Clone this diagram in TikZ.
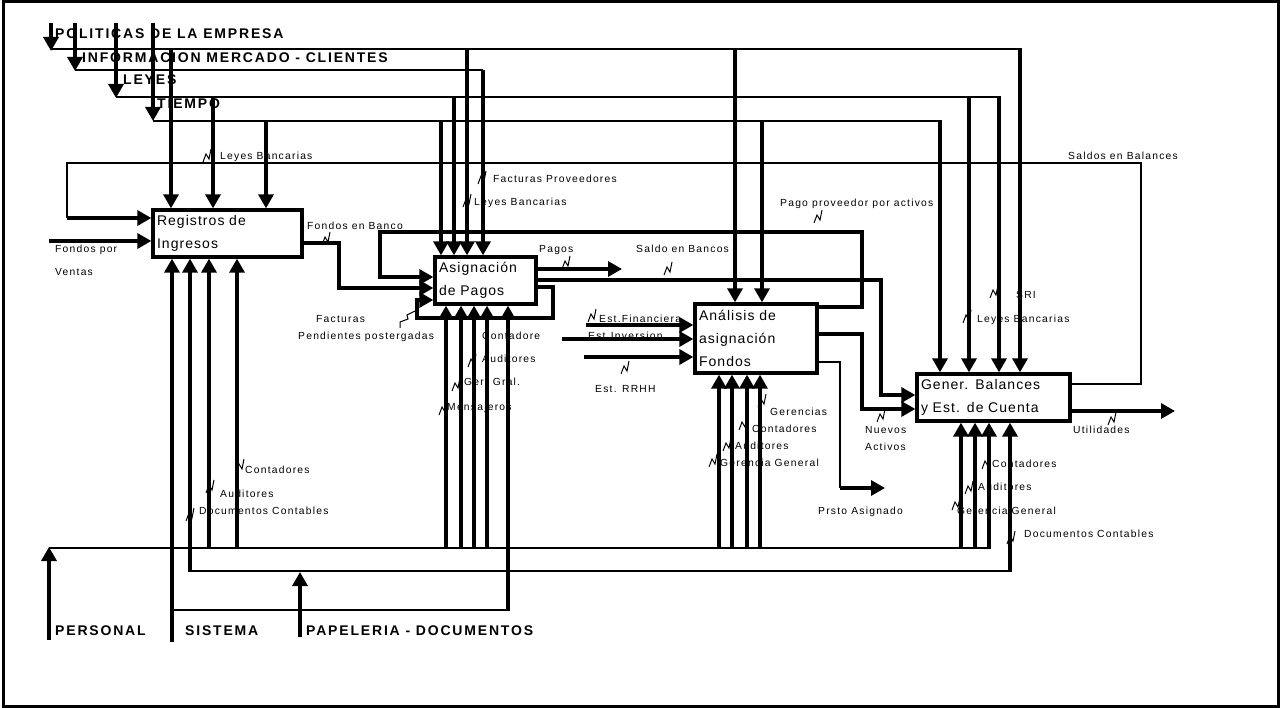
\documentclass[tikz,border=0pt]{standalone}
\usepackage{fontspec}
\setmainfont{Liberation Sans}
\newfontfamily\boxf[LetterSpace=7.5]{Liberation Sans}
\newfontfamily\lblf[LetterSpace=12]{Liberation Sans}
\newfontfamily\ttlf[LetterSpace=13]{Liberation Sans}
\usetikzlibrary{arrows.meta,calc}
\begin{document}
\begin{tikzpicture}[x=1pt,y=-1pt,
  thk/.style={line width=3.3pt},
  thn/.style={line width=1.5pt},
  arr/.style={-{Triangle[length=14pt,width=15pt]}},
  box/.style={draw,line width=3.3pt,inner xsep=3pt,inner ysep=0pt,align=left,
    font=\boxf\fontsize{14}{23}\selectfont},
  lbl/.style={font=\lblf\fontsize{10.3}{12}\selectfont,anchor=base west,inner sep=0pt},
  ttl/.style={font=\ttlf\bfseries\fontsize{14}{16}\selectfont,anchor=base west,inner sep=0pt},
  sq/.pic={\draw[line width=1pt] (-4,7) -- (-1,-1) -- (2,4) -- (4,-6);}
]
\useasboundingbox (0,0) rectangle (1284,708);
\draw[line width=3pt] (3,1.5) rectangle (1278,706);

% boxes
\node[box,minimum width=149pt,minimum height=47pt,text width=141pt] (reg) at (227.5,233.5) {Registros de\\Ingresos};
\node[box,minimum width=101pt,minimum height=47pt,text width=93pt] (asg) at (485.5,280.5) {Asignación\\de Pagos};
\node[box,minimum width=122pt,minimum height=69pt,text width=114pt] (ana) at (756,338.5) {Análisis de\\asignación\\Fondos};
\node[box,minimum width=153pt,minimum height=47pt,text width=145pt] (gen) at (993.5,397.5) {Gener. Balances\\y Est. de Cuenta};

% titles
\node[ttl] (tpol) at (55,39) {POLITICAS DE LA EMPRESA};
\node[ttl] (tinf) at (82,63) {INFORMACION MERCADO - CLIENTES};
\node[ttl] (tley) at (123,85) {LEYES};
\node[ttl] (ttie) at (157,109) {TIEMPO};
\node[ttl] (tper) at (55,635) {PERSONAL};
\node[ttl] (tsis) at (185,635) {SISTEMA};
\node[ttl] (tpap) at (306,635) {PAPELERIA - DOCUMENTOS};

% controls
\coordinate (polS) at (51,23); \coordinate (polE) at (51,51);
\coordinate (infS) at (75,23); \coordinate (infE) at (75,71);
\coordinate (leyS) at (116,23); \coordinate (leyE) at (116,98);
\coordinate (tieS) at (153,23); \coordinate (tieE) at (153,121);
\draw[thk,arr] (polS) -- (polE);
\draw[thk,arr] (infS) -- (infE);
\draw[thk,arr] (leyS) -- (leyE);
\draw[thk,arr] (tieS) -- (tieE);
\coordinate (polA) at (51,49);  \coordinate (polB) at (1020,49);
\coordinate (infA) at (75,70);  \coordinate (infB) at (483,70);
\coordinate (leyA) at (116,97); \coordinate (leyB) at (999,97);
\coordinate (tieA) at (153,121); \coordinate (tieB) at (940,121);
\draw[thn] (polA) -- (polB);
\draw[thn] (infA) -- (infB);
\draw[thn] (leyA) -- (leyB);
\draw[thn] (tieA) -- (tieB);
\foreach \x/\b in {171/reg,467/asg,735/ana,1020/gen}
  \draw[thk,arr] (\x,48.5) -- (\x,49 |- \b.north);
\draw[thk,arr] (infB) -- (infB |- asg.north);
\foreach \x/\b in {213/reg,454/asg,969/gen,999/gen}
  \draw[thk,arr] (\x,96.5) -- (\x,97 |- \b.north);
\foreach \x/\b in {266/reg,441/asg,762/ana,940/gen}
  \draw[thk,arr] (\x,120.5) -- (\x,121 |- \b.north);

% feedback Saldos en Balances
\draw[thn] (gen.east |- 0,384) -- (1141,384) -- (1141,163) -- (67,163) -- (67,218);
\draw[thk,arr] (67,218) -- (reg.west |- 0,218);

% inputs / outputs
\draw[thk,arr] (49,241) -- (reg.west |- 0,241);
\draw[thk,arr] (reg.east |- 0,243) -- (339,243) -- (339,288) -- (asg.west |- 0,288);
\draw[thk,arr] (ana.east |- 0,307) -- (862,307) -- (862,232) -- (380,232) -- (380,277) -- (asg.west |- 0,277);
\draw[thk,arr] (asg.east |- 0,287) -- (553,287) -- (553,318) -- (417,318) -- (417,300) -- (asg.west |- 0,300);
\draw[thk,arr] (asg.east |- 0,269) -- (622,269);
\draw[thk,arr] (asg.east |- 0,280) -- (881,280) -- (881,395) -- (gen.west |- 0,395);
\draw[thk,arr] (ana.east |- 0,334) -- (862,334) -- (862,409) -- (gen.west |- 0,409);
\draw[thn] (ana.east |- 0,362) -- (840,362) -- (840,488);
\draw[thk,arr] (839.5,488) -- (885,488);
\draw[thk,arr] (586,325) -- (ana.west |- 0,325);
\draw[thk,arr] (562,339) -- (ana.west |- 0,339);
\draw[thk,arr] (584,357) -- (ana.west |- 0,357);
\draw[thk,arr] (gen.east |- 0,411) -- (1175,411);

% mechanisms
\coordinate (perS) at (49,640); \coordinate (perE) at (49,547);
\draw[thk,arr] (perS) -- (perE);
\coordinate (perA) at (49,548); \coordinate (perB) at (989,548);
\draw[thn] (perA) -- (perB);
\foreach \x/\b in {209/reg,237/reg,446/asg,461/asg,474/asg,487/asg,719/ana,732/ana,747/ana,760/ana,961/gen,975/gen,989/gen}
  \draw[thk,arr] (\x,548.5) -- (\x,548 |- \b.south);
\coordinate (sisS) at (172,642);
\draw[thk,arr] (sisS) -- (sisS |- reg.south);
\coordinate (sisA) at (172,610); \coordinate (sisB) at (508,610);
\draw[thn] (sisA) -- (sisB);
\draw[thk,arr] (508,610.5) -- (sisB |- asg.south);
\coordinate (papS) at (300,637); \coordinate (papE) at (300,572);
\draw[thk,arr] (papS) -- (papE);
\coordinate (papA) at (190,571); \coordinate (papB) at (1010,571);
\draw[thn] (papA) -- (papB);
\draw[thk,arr] (190,571.5) -- (papA |- reg.south);
\draw[thk,arr] (1010,571.5) -- (papB |- gen.south);

% labels
\node[lbl] at (220,159.6) {Leyes Bancarias};
\node[lbl] at (1068,159.6) {Saldos en Balances};
\node[lbl] at (493,182.6) {Facturas Proveedores};
\node[lbl] at (474,205.6) {Leyes Bancarias};
\node[lbl] at (780,206.6) {Pago proveedor por activos};
\node[lbl] at (307,229.6) {Fondos en Banco};
\node[lbl] at (55,252.6) {Fondos por};
\node[lbl] at (55,275.6) {Ventas};
\node[lbl] at (539,252.6) {Pagos};
\node[lbl] at (636,252.6) {Saldo en Bancos};
\node[lbl] at (1016,298.6) {SRI};
\node[lbl] at (977,322.6) {Leyes Bancarias};
\node[lbl] at (316,322.6) {Facturas};
\node[lbl] at (298,339.6) {Pendientes postergadas};
\node[lbl] at (482,339.6) {Contadore};
\node[lbl] at (599,322.6) {Est.Financiera};
\node[lbl] at (588,339.6) {Est.Inversion};
\node[lbl] at (482,362.6) {Auditores};
\node[lbl] at (464,385.6) {Ger. Gral.};
\node[lbl] at (447,410.6) {Mensajeros};
\node[lbl] at (595,392.6) {Est. RRHH};
\node[lbl] at (770,415.6) {Gerencias};
\node[lbl] at (752,432.6) {Contadores};
\node[lbl] at (735,449.6) {Auditores};
\node[lbl] at (720,466.6) {Gerencia General};
\node[lbl] at (865,433.6) {Nuevos};
\node[lbl] at (865,450.6) {Activos};
\node[lbl] at (1073,433.6) {Utilidades};
\node[lbl] at (245,473.6) {Contadores};
\node[lbl] at (220,497.6) {Auditores};
\node[lbl] at (199,514.6) {Documentos Contables};
\node[lbl] at (992,467.6) {Contadores};
\node[lbl] at (978,490.6) {Auditores};
\node[lbl] at (957,514.6) {Gerencia General};
\node[lbl] at (1024,537.6) {Documentos Contables};
\node[lbl] at (818,514.6) {Prsto Asignado};

% squiggles
\foreach \p in {(207,155),(482,177),(467,200),(818,216),(326,238),(566,262),(668,268),
  (592,315),(625,367),(472,360),(456,384),(443,408),(994,291),(967,316),(881,415),(1112,418),
  (986,462),(969,487),(956,503),(1011,537),(240,465),(210,486),(190,514),
  (762,400),(743,423),(727,444),(713,460)}
  \pic at \p {sq};
\draw[line width=1pt] (400,328) -- (400,322) -- (408,319) -- (407,315) -- (417,310);
\end{tikzpicture}
\end{document}
